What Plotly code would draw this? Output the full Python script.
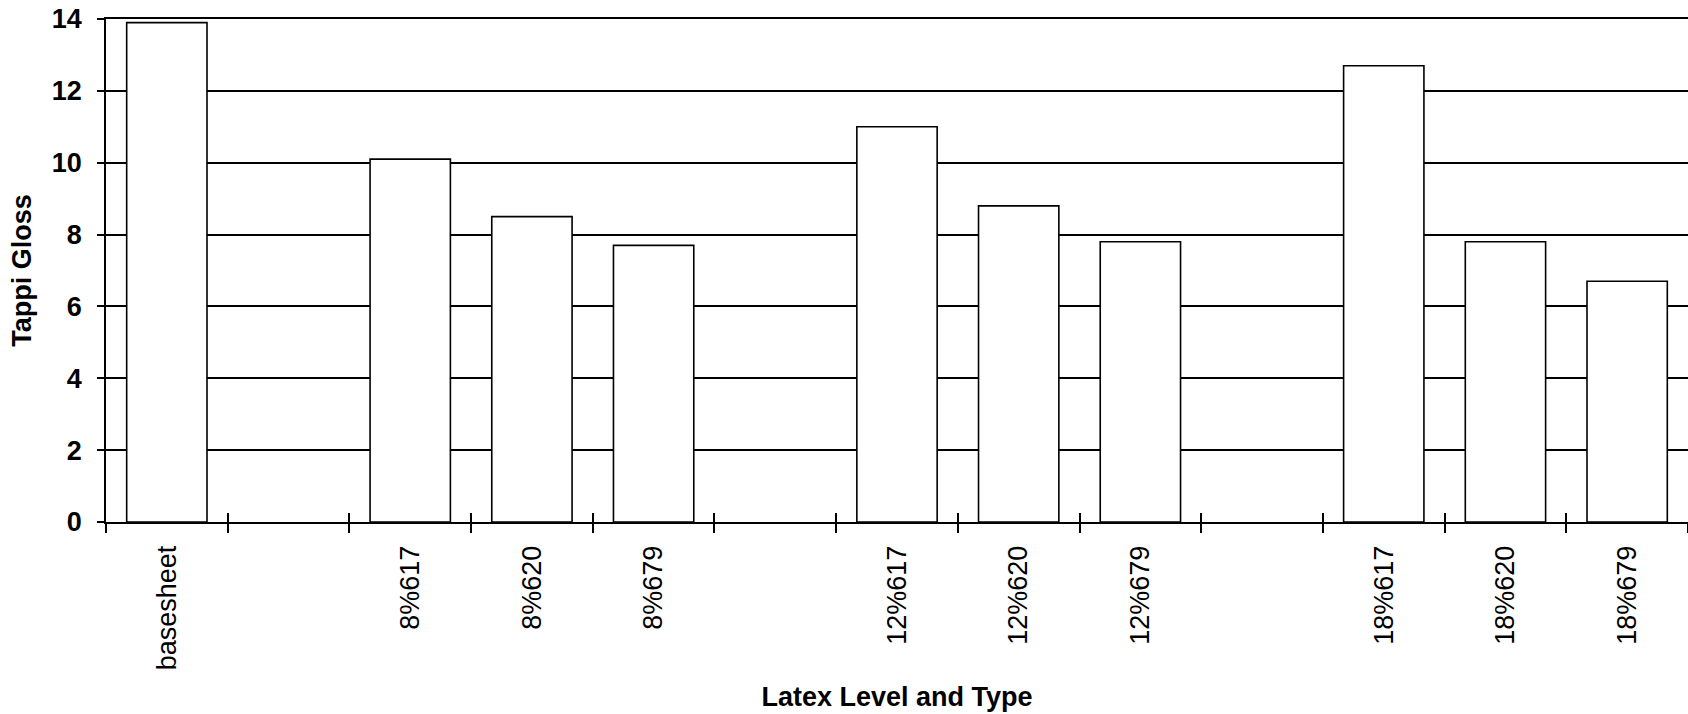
import plotly.graph_objects as go

# Tappi gloss by latex level and type (blank slots separate the groups)
categories = ["basesheet", " ", "8%617", "8%620", "8%679", "  ",
              "12%617", "12%620", "12%679", "   ",
              "18%617", "18%620", "18%679"]
gloss = [13.9, None, 10.1, 8.5, 7.7, None,
         11.0, 8.8, 7.8, None,
         12.7, 7.8, 6.7]
y_ticks = [0, 2, 4, 6, 8, 10, 12, 14]

FONT = "Liberation Sans, Arial, sans-serif"
INK = "black"

fig = go.Figure()

fig.add_trace(go.Bar(
    x=categories, y=gloss,
    marker=dict(color="white", line=dict(color=INK, width=1.6)),
    showlegend=False,
))

# Transparent copy on an overlaid axis so boundary ticks cross the x axis line
fig.add_trace(go.Bar(
    x=categories, y=gloss, xaxis="x2",
    marker=dict(color="rgba(0,0,0,0)", line=dict(width=0)),
    showlegend=False, hoverinfo="skip",
))

fig.update_layout(
    width=1688, height=714,
    margin=dict(l=106, r=0, t=19, b=192),
    paper_bgcolor="white", plot_bgcolor="white",
    bargap=0.34,
    font=dict(family=FONT, color=INK, size=27),
    xaxis=dict(
        type="category", categoryorder="array", categoryarray=categories,
        tickson="boundaries", ticks="outside", ticklen=9, tickwidth=1.5,
        tickcolor=INK, tickangle=-90, ticklabelstandoff=11,
        tickfont=dict(family=FONT, size=27, color=INK),
        showline=True, mirror=True, linecolor=INK, linewidth=1.8,
        showgrid=False, zeroline=False,
        title=dict(text="Latex Level and Type", standoff=18,
                   font=dict(family=FONT, size=27, color=INK, weight="bold")),
    ),
    xaxis2=dict(
        type="category", categoryorder="array", categoryarray=categories,
        overlaying="x", side="bottom", matches="x",
        tickson="boundaries", ticks="inside", ticklen=9, tickwidth=1.5,
        tickcolor=INK, showticklabels=False, showline=False,
        showgrid=False, zeroline=False,
    ),
    yaxis=dict(
        range=[0, 14], tickvals=y_ticks, ticks="outside", ticklen=7,
        tickwidth=1.5, tickcolor=INK,
        tickfont=dict(family=FONT, size=27, color=INK, weight="bold"),
        ticklabelstandoff=10,
        showline=True, linecolor=INK, linewidth=1.8,
        showgrid=True, gridcolor=INK, gridwidth=1.6,
        zeroline=False,
        title=dict(text="Tappi Gloss", standoff=12,
                   font=dict(family=FONT, size=27, color=INK, weight="bold")),
    ),
)

fig.write_html("out.html")
